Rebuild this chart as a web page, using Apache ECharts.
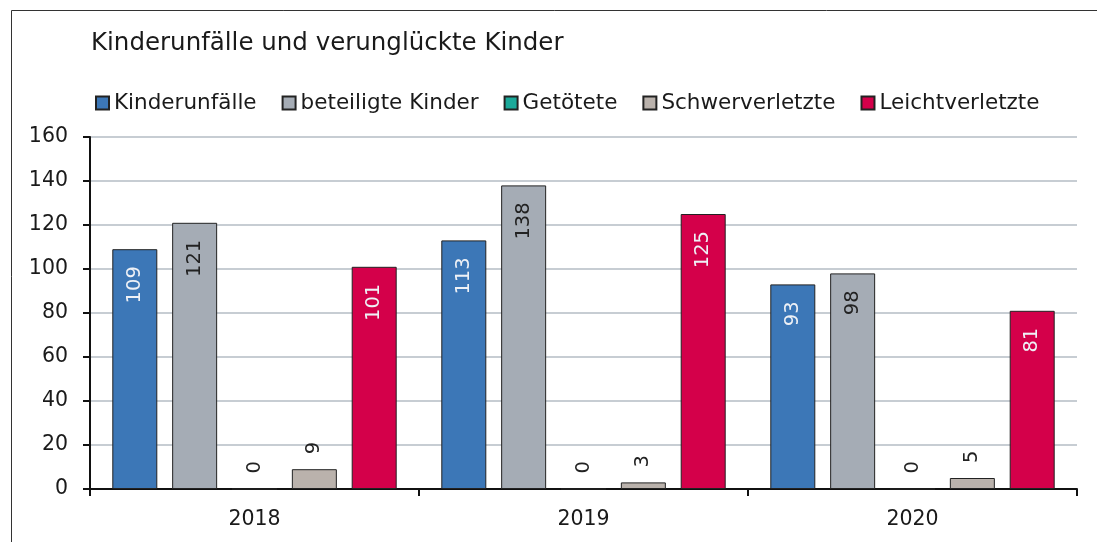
<!DOCTYPE html>
<html>
<head>
<meta charset="utf-8">
<script src="https://cdn.jsdelivr.net/npm/echarts@6/dist/echarts.min.js"></script>
<style>
html,body{margin:0;padding:0;background:#fff;}
#c{width:1097px;height:542px;}
</style>
</head>
<body>
<div id="c"></div>
<script>
const categories = ['2018', '2019', '2020'];
const seriesNames = ['Kinderunfälle', 'beteiligte Kinder', 'Getötete', 'Schwerverletzte', 'Leichtverletzte'];
const kinderunfaelle = [109, 113, 93];
const beteiligteKinder = [121, 138, 98];
const getoetete = [0, 0, 0];
const schwerverletzte = [9, 3, 5];
const leichtverletzte = [101, 125, 81];
const yTicks = [0, 20, 40, 60, 80, 100, 120, 140, 160];

const FONT = 'DejaVu Sans';
const colors = ['#3C77B7', '#A5ACB5', '#1BA99A', '#BAB2AC', '#D4004A'];
const dataSets = [kinderunfaelle, beteiligteKinder, getoetete, schwerverletzte, leichtverletzte];

function insideLabel(color) {
  return {
    show: true, position: 'insideTop', rotate: 90, align: 'right', verticalAlign: 'middle',
    distance: 17, color: color, fontSize: 19.5, fontFamily: FONT
  };
}
function topLabel() {
  return {
    show: true, position: 'top', rotate: 90, align: 'left', verticalAlign: 'middle',
    distance: 15, color: '#222', fontSize: 19.5, fontFamily: FONT
  };
}
const labels = [insideLabel('#EEF1F6'), insideLabel('#222'), topLabel(), topLabel(), insideLabel('#EEF1F6')];

const chart = echarts.init(document.getElementById('c'), null, {renderer: 'canvas'});
chart.setOption({
  animation: false,
  backgroundColor: '#fff',
  textStyle: {fontFamily: FONT},
  graphic: [{
    type: 'rect', left: 9, top: 8, silent: true,
    shape: {width: 1200, height: 700},
    style: {fill: 'none', stroke: '#333', lineWidth: 1}
  }],
  title: {
    text: 'Kinderunfälle und verunglückte Kinder',
    left: 86, top: 26,
    textStyle: {fontSize: 24.5, fontWeight: 'normal', color: '#1a1a1a', fontFamily: FONT}
  },
  legend: {
    left: 90, top: 87,
    itemWidth: 13, itemHeight: 13, itemGap: 25,
    icon: 'rect',
    textStyle: {fontSize: 21.5, color: '#1a1a1a', fontFamily: FONT},
    data: seriesNames
  },
  grid: {left: 90, right: 20, top: 137, bottom: 53, containLabel: false},
  xAxis: {
    type: 'category', data: categories,
    axisLine: {show: true, lineStyle: {color: '#111', width: 2}},
    axisTick: {show: true, length: 7, lineStyle: {color: '#111', width: 2}},
    axisLabel: {fontSize: 20.5, color: '#1a1a1a', margin: 20, fontFamily: FONT}
  },
  yAxis: {
    type: 'value', min: yTicks[0], max: yTicks[yTicks.length - 1], interval: 20,
    axisLine: {show: true, lineStyle: {color: '#111', width: 2}},
    axisTick: {show: true, length: 7, lineStyle: {color: '#111', width: 2}},
    axisLabel: {fontSize: 20.5, color: '#1a1a1a', margin: 22, fontFamily: FONT},
    splitLine: {show: true, lineStyle: {color: '#B5BCC5', width: 1.5}}
  },
  series: seriesNames.map((name, i) => ({
    name: name, type: 'bar', data: dataSets[i],
    barWidth: 45, barGap: '33%',
    itemStyle: {color: colors[i], borderColor: '#222', borderWidth: 1},
    label: labels[i]
  }))
});
</script>
</body>
</html>
